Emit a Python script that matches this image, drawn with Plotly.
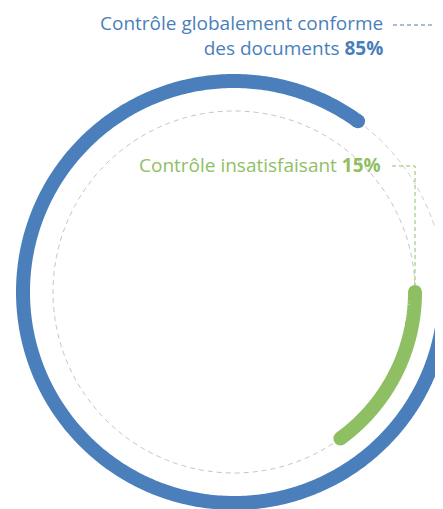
import numpy as np
import plotly.graph_objects as go

# ---- data ----
categories = ["Contrôle globalement conforme des documents", "Contrôle insatisfaisant"]
values = [85, 15]
label_lines = [["Contrôle globalement conforme", "des documents"], ["Contrôle insatisfaisant"]]
value_labels = ["85%", "15%"]
colors = ["#4a7fbb", "#8fbf63"]

# ---- layout constants (center-based coordinates, y up, 1 unit = 1 px) ----
W, H = 443, 509
PAGE_OFF = 8               # default body margin of the html page
CX, CY = 234, 292          # ring center as seen on the page
radii = [211, 181]
stroke = 14
track_color = "#c4c4c4"

fig = go.Figure()

def arc(r, a0, a1, n=400):
    t = np.radians(np.linspace(a0, a1, n))
    return r * np.cos(t), r * np.sin(t)

for cat, v, r, c in zip(categories, values, radii, colors):
    sweep = v / 100 * 360
    # dashed track for the remainder
    tx, ty = arc(r, -sweep, -360)
    fig.add_trace(go.Scatter(x=tx, y=ty, mode="lines",
                             line=dict(color=track_color, width=1, dash="5px,4px", simplify=False),
                             hoverinfo="skip", showlegend=False))
    # value arc (clockwise from 3 o'clock)
    ax, ay = arc(r, 0, -sweep)
    fig.add_trace(go.Scatter(x=ax, y=ay, mode="lines",
                             line=dict(color=c, width=stroke, simplify=False),
                             name=cat, showlegend=False))
    # round caps
    fig.add_trace(go.Scatter(x=[ax[0], ax[-1]], y=[ay[0], ay[-1]], mode="markers",
                             marker=dict(color=c, size=stroke, line=dict(width=0)),
                             hoverinfo="skip", showlegend=False))

# leader lines
blue_leader_y = 267
fig.add_trace(go.Scatter(x=[159, 230], y=[blue_leader_y, blue_leader_y], mode="lines",
                         line=dict(color=colors[0], width=1, dash="4px,3px"),
                         hoverinfo="skip", showlegend=False))
green_leader_y = 126
gx = radii[1] * np.cos(0)
fig.add_trace(go.Scatter(x=[158, gx, gx], y=[green_leader_y, green_leader_y, stroke / 2],
                         mode="lines",
                         line=dict(color=colors[1], width=1, dash="4px,3px"),
                         hoverinfo="skip", showlegend=False))

# labels
font_family = "Open Sans, sans-serif"
fig.add_annotation(x=151, y=257, xref="x", yref="y", xanchor="right", yanchor="middle",
                   align="right", showarrow=False,
                   text=label_lines[0][0] + "<br>" + label_lines[0][1] + " <b>" + value_labels[0] + "</b>",
                   font=dict(family=font_family, size=19, color=colors[0]))
fig.add_annotation(x=149, y=127, xref="x", yref="y", xanchor="right", yanchor="middle",
                   align="right", showarrow=False,
                   text=label_lines[1][0] + " <b>" + value_labels[1] + "</b>",
                   font=dict(family=font_family, size=19, color=colors[1]))

x0 = -(CX - PAGE_OFF)
ytop = CY - PAGE_OFF
fig.update_layout(
    width=W, height=H,
    margin=dict(l=0, r=0, t=0, b=0),
    paper_bgcolor="white", plot_bgcolor="white",
    xaxis=dict(range=[x0, x0 + W], visible=False, fixedrange=True),
    yaxis=dict(range=[ytop - H, ytop], visible=False, fixedrange=True),
    showlegend=False,
)

fig.write_html("out.html")
